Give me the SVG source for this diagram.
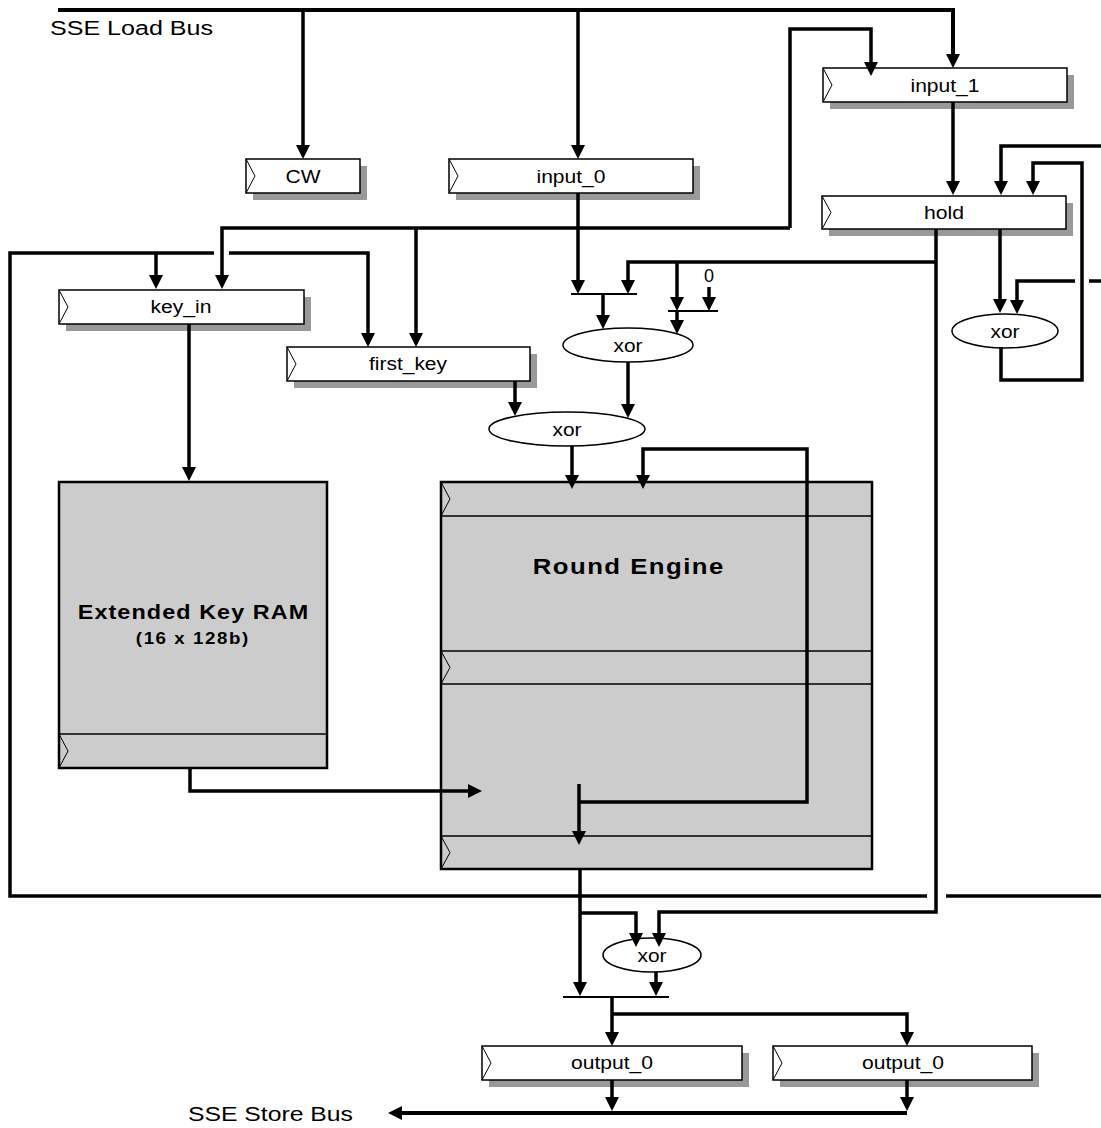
<svg xmlns="http://www.w3.org/2000/svg" width="1101" height="1128" viewBox="0 0 1101 1128">
<style>
.w{fill:none;stroke:#000;stroke-width:3.5;stroke-linejoin:miter;stroke-linecap:butt}
.wa{fill:none;stroke:#000;stroke-width:3.5;marker-end:url(#ah)}
.bar{fill:none;stroke:#000;stroke-width:2}
.sh{fill:#999}
.reg{fill:#fff;stroke:#000;stroke-width:1.5}
.clk{fill:none;stroke:#000;stroke-width:1}
.blk{fill:#ccc;stroke:#000;stroke-width:2.5}
.strip{fill:none;stroke:#000;stroke-width:1.5}
.op{fill:#fff;stroke:#000;stroke-width:1.5}
text{font-family:"Liberation Sans",Arial,sans-serif;fill:#000}
.l{font-size:18px;text-anchor:middle}
.t{font-size:20px}
.b{font-weight:bold;text-anchor:middle}
</style>
<defs>
<marker id="ah" markerUnits="userSpaceOnUse" markerWidth="16" markerHeight="16" refX="6" refY="7" orient="auto"><path d="M0,0 L14,7 L0,14 z" fill="#000"/></marker>
</defs>

<g id="labels">
<text class="t" x="50" y="35" textLength="163" lengthAdjust="spacingAndGlyphs">SSE Load Bus</text>
<text class="t" x="188" y="1121" textLength="165" lengthAdjust="spacingAndGlyphs">SSE Store Bus</text>
<text x="709" y="282" font-size="18" text-anchor="middle">0</text>
</g>

<g id="cw">
<rect class="sh" x="253" y="166" width="114" height="34"/>
<rect class="reg" x="246" y="159" width="114" height="34"/>
<polyline class="clk" points="246,159 255,176 246,193"/>
<text class="l" x="303" y="183" textLength="35" lengthAdjust="spacingAndGlyphs">CW</text>
</g>

<g id="input_0">
<rect class="sh" x="456" y="166" width="244" height="34"/>
<rect class="reg" x="449" y="159" width="244" height="34"/>
<polyline class="clk" points="449,159 458,176 449,193"/>
<text class="l" x="571" y="183" textLength="69" lengthAdjust="spacingAndGlyphs">input_0</text>
</g>

<g id="input_1">
<rect class="sh" x="830" y="75" width="244" height="34"/>
<rect class="reg" x="823" y="68" width="244" height="34"/>
<polyline class="clk" points="823,68 832,85 823,102"/>
<text class="l" x="945" y="92" textLength="69" lengthAdjust="spacingAndGlyphs">input_1</text>
</g>

<g id="hold">
<rect class="sh" x="829" y="203" width="244" height="33"/>
<rect class="reg" x="822" y="196" width="244" height="33"/>
<polyline class="clk" points="822,196 831,212.5 822,229"/>
<text class="l" x="944" y="219" textLength="40" lengthAdjust="spacingAndGlyphs">hold</text>
</g>

<g id="key_in">
<rect class="sh" x="66" y="297" width="245" height="34"/>
<rect class="reg" x="59" y="290" width="245" height="34"/>
<polyline class="clk" points="59,290 68,307 59,324"/>
<text class="l" x="181" y="313" textLength="61" lengthAdjust="spacingAndGlyphs">key_in</text>
</g>

<g id="first_key">
<rect class="sh" x="294" y="354" width="243" height="34"/>
<rect class="reg" x="287" y="347" width="243" height="34"/>
<polyline class="clk" points="287,347 296,364 287,381"/>
<text class="l" x="408" y="370" textLength="78" lengthAdjust="spacingAndGlyphs">first_key</text>
</g>

<g id="key_ram">
<rect class="blk" x="59" y="482" width="268" height="286"/>
<line class="strip" x1="59" y1="734" x2="327" y2="734"/>
<polyline class="clk" points="59,734 68,751 59,768"/>
<text class="b" transform="translate(193,619) scale(1.17,1)" x="0" y="0" font-size="20" textLength="197" lengthAdjust="spacing">Extended Key RAM</text>
<text class="b" transform="translate(192,644) scale(1.17,1)" x="0" y="0" font-size="16" textLength="96" lengthAdjust="spacing">(16 x 128b)</text>
</g>

<g id="round_engine">
<rect class="blk" x="441" y="482" width="431" height="387"/>
<line class="strip" x1="441" y1="516" x2="872" y2="516"/>
<line class="strip" x1="441" y1="651" x2="872" y2="651"/>
<line class="strip" x1="441" y1="684" x2="872" y2="684"/>
<line class="strip" x1="441" y1="836" x2="872" y2="836"/>
<polyline class="clk" points="441,482 450,499 441,516"/>
<polyline class="clk" points="441,651 450,667.5 441,684"/>
<polyline class="clk" points="441,836 450,852.5 441,869"/>
<text class="b" transform="translate(628,574) scale(1.17,1)" x="0" y="0" font-size="22" textLength="163" lengthAdjust="spacing">Round Engine</text>
</g>

<g id="mux_a"><line class="bar" x1="571" y1="294" x2="637" y2="294"/></g>
<g id="mux_b"><line class="bar" x1="668" y1="311" x2="718" y2="311"/></g>
<g id="mux_out"><line class="bar" x1="563" y1="997" x2="669" y2="997"/></g>

<g id="xor_1">
<ellipse class="op" cx="628" cy="345" rx="65" ry="17"/>
<text class="l" x="628" y="352" textLength="29" lengthAdjust="spacingAndGlyphs">xor</text>
</g>
<g id="xor_2">
<ellipse class="op" cx="567" cy="429" rx="78" ry="17"/>
<text class="l" x="567" y="436" textLength="29" lengthAdjust="spacingAndGlyphs">xor</text>
</g>
<g id="xor_hold">
<ellipse class="op" cx="1005" cy="331" rx="53" ry="17"/>
<text class="l" x="1005" y="338" textLength="29" lengthAdjust="spacingAndGlyphs">xor</text>
</g>
<g id="xor_out">
<ellipse class="op" cx="652" cy="955" rx="49" ry="17"/>
<text class="l" x="652" y="962" textLength="29" lengthAdjust="spacingAndGlyphs">xor</text>
</g>

<g id="output_0a">
<rect class="sh" x="489" y="1053" width="260" height="34"/>
<rect class="reg" x="482" y="1046" width="260" height="34"/>
<polyline class="clk" points="482,1046 491,1063 482,1080"/>
<text class="l" x="612" y="1069" textLength="82" lengthAdjust="spacingAndGlyphs">output_0</text>
</g>
<g id="output_0b">
<rect class="sh" x="780" y="1053" width="259" height="34"/>
<rect class="reg" x="773" y="1046" width="259" height="34"/>
<polyline class="clk" points="773,1046 782,1063 773,1080"/>
<text class="l" x="903" y="1069" textLength="82" lengthAdjust="spacingAndGlyphs">output_0</text>
</g>

<g id="connectors">
<path class="wa" style="stroke-width:4" d="M58,10 H953 V60"/>
<path class="wa" d="M303,10 V151"/>
<path class="wa" d="M578,10 V151"/>
<path class="wa" d="M790,228 V29 H871 V68"/>
<path class="wa" d="M790,228 H222 V281"/>
<path class="wa" d="M416,228 V339"/>
<path class="w" d="M1101,896 H946"/>
<path class="w" d="M927,896 H10 V253 H214"/>
<path class="wa" d="M229,253 H368 V339"/>
<path class="wa" d="M156,253 V281"/>
<path class="wa" d="M578,193 V286"/>
<path class="wa" d="M936,229 V912 H659 V939"/>
<path class="wa" d="M936,262 H628 V286"/>
<path class="wa" d="M677,262 V303"/>
<path class="wa" d="M709,287 V303"/>
<path class="wa" d="M603,294 V321"/>
<path class="wa" d="M677,311 V326"/>
<path class="wa" d="M628,362 V410"/>
<path class="wa" d="M515,381 V408"/>
<path class="wa" d="M572,446 V481"/>
<path class="wa" d="M579,802 H807 V449 H643 V481"/>
<path class="wa" d="M579,784 V837"/>
<path class="wa" d="M190,768 V791 H474"/>
<path class="wa" d="M189,324 V473"/>
<path class="wa" d="M580,869 V988"/>
<path class="wa" d="M580,913 H636 V939"/>
<path class="wa" d="M656,972 V988"/>
<path class="wa" d="M612,997 V1038"/>
<path class="wa" d="M612,1014 H907 V1038"/>
<path class="wa" d="M612,1080 V1103"/>
<path class="wa" d="M907,1080 V1103"/>
<path class="wa" style="stroke-width:4" d="M907,1113 H396"/>
<path class="wa" d="M953,102 V187"/>
<path class="wa" d="M1101,146 H1001 V187"/>
<path class="wa" d="M1000,229 V305"/>
<path class="w" d="M1101,281 H1089"/>
<path class="wa" d="M1075,281 H1017 V306"/>
<path class="wa" d="M1001,347 V380 H1082 V163 H1033 V187"/>
</g>
</svg>
